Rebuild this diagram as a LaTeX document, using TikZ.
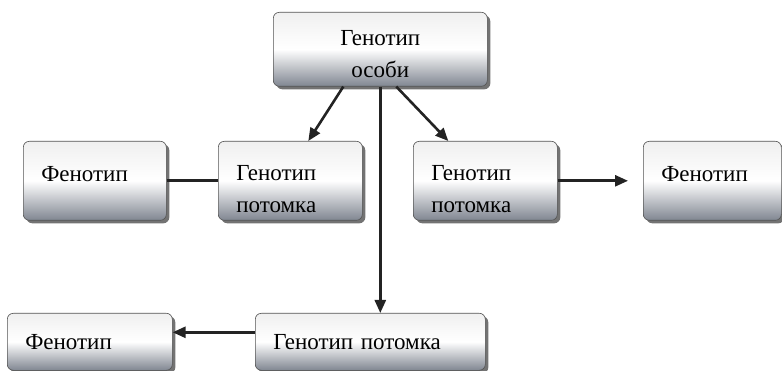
\documentclass[tikz,border=0pt]{standalone}
\usepackage{fontspec}
\setmainfont{Liberation Serif}
\usetikzlibrary{arrows.meta,positioning,calc,shadows}
\definecolor{boxbot}{RGB}{128,134,145}
\definecolor{linecol}{RGB}{35,35,35}
\newcommand{\up}[1]{\rule{0pt}{#1}}
\newcommand{\dn}[1]{\rule[-#1]{0pt}{0pt}}

\begin{document}
\begin{tikzpicture}[x=1pt,y=-1pt,
 blok/.style={draw=gray!65!black,line width=0.6pt,rounded corners=6pt,
  top color=gray!12,bottom color=boxbot,middle color=white,
  drop shadow={shadow xshift=3pt,shadow yshift=-3pt,fill=black!55,opacity=1},
  anchor=north west,inner xsep=18pt,inner ysep=0pt,align=left,
  font=\fontsize{23}{32}\selectfont},
 con/.style={line width=2.6pt,linecol,-{Triangle[length=13pt,width=11pt]}}]
\useasboundingbox (0,0) rectangle (782,371);
% upper row
\node[blok,text width=178pt,minimum height=74pt,align=center] (gos) at (273,12) {\up{24pt}Генотип\\особи};
\node[blok,text width=107pt,minimum height=79pt] (fen1) at (23,141) {Фенотип\dn{13pt}};
\node[blok,text width=108pt,minimum height=79pt] (gp1) at (218,141) {\up{32pt}Генотип\\потомка};
\node[blok,text width=108pt,minimum height=79pt] (gp2) at (413,141) {\up{32pt}Генотип\\потомка};
\node[blok,text width=102pt,minimum height=79pt] (fen2) at (643,141) {Фенотип\dn{13pt}};
% lower row
\node[blok,text width=194pt,minimum height=57pt] (gp3) at (255,313) {Генотип потомка};
\node[blok,text width=129pt,minimum height=57pt] (fen3) at (7,313) {Фенотип};
% connectors
\draw[con] ([xshift=-37pt]gos.south) -- ([xshift=18pt]gp1.north);
\draw[con] ([xshift=16pt]gos.south) -- ([xshift=-37pt]gp2.north);
\draw[con] (gos.south) -- (gos.south |- gp3.north);
\draw[line width=2.6pt,linecol] (fen1.east) -- (gp1.west);
\draw[con] (gp2.east) -- ([xshift=-15pt]fen2.west);
\draw[con] ([yshift=9.5pt]gp3.west) -- ([yshift=9.5pt]fen3.east);
\end{tikzpicture}
\end{document}
